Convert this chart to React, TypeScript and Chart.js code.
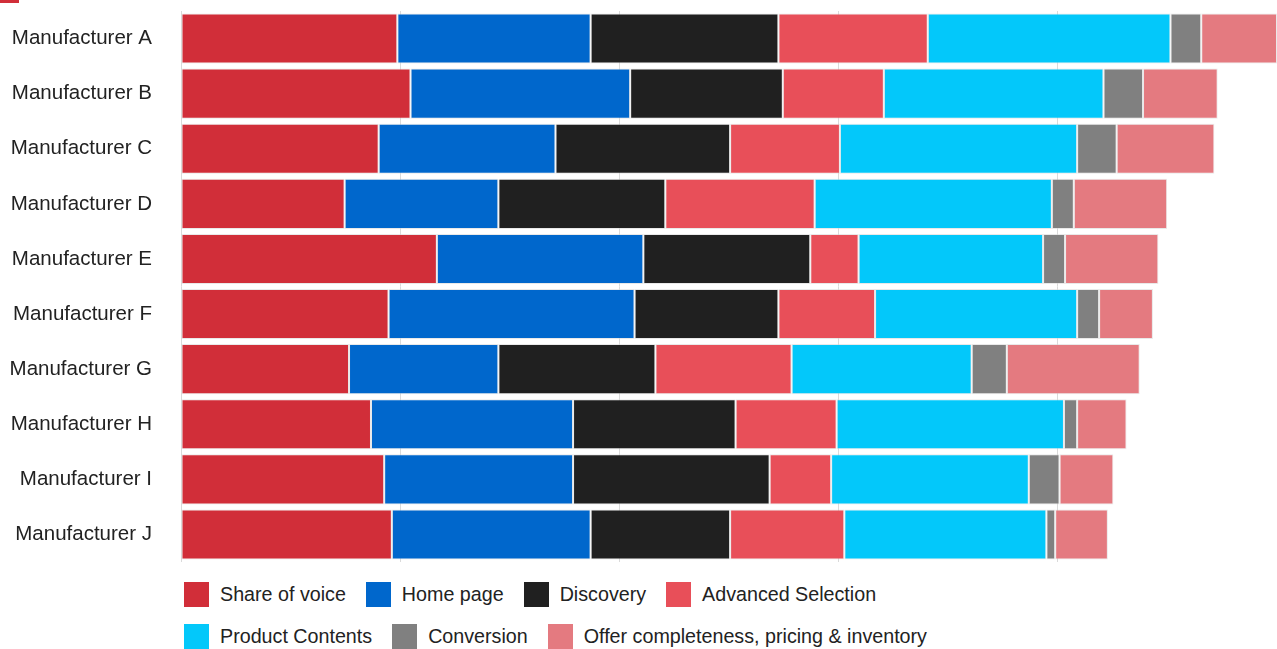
import { useEffect, useRef } from "react";
import { Chart, registerables } from "chart.js";

Chart.register(...registerables);

// Categories (one bar each)
const manufacturers = [
  "Manufacturer A",
  "Manufacturer B",
  "Manufacturer C",
  "Manufacturer D",
  "Manufacturer E",
  "Manufacturer F",
  "Manufacturer G",
  "Manufacturer H",
  "Manufacturer I",
  "Manufacturer J",
];

// Score components, stacked left to right
const shareOfVoice = [19.7, 20.9, 18.0, 14.9, 23.3, 18.9, 15.3, 17.3, 18.5, 19.2];
const homePage = [17.6, 20.0, 16.1, 14.0, 18.8, 22.4, 13.6, 18.4, 17.2, 18.1];
const discovery = [17.1, 13.9, 15.9, 15.2, 15.2, 13.1, 14.3, 14.8, 17.9, 12.7];
const advancedSelection = [13.6, 9.2, 10.0, 13.6, 4.4, 8.8, 12.4, 9.2, 5.6, 10.4];
const productContents = [22.1, 20.0, 21.6, 21.6, 16.8, 18.4, 16.4, 20.7, 18.0, 18.4];
const conversion = [2.8, 3.6, 3.6, 2.0, 2.0, 2.0, 3.2, 1.2, 2.8, 0.8];
const offerCompleteness = [6.9, 6.8, 8.9, 8.5, 8.5, 4.9, 12.1, 4.5, 4.9, 4.8];

const seriesLabels = [
  "Share of voice",
  "Home page",
  "Discovery",
  "Advanced Selection",
  "Product Contents",
  "Conversion",
  "Offer completeness, pricing & inventory",
];
const seriesValues = [
  shareOfVoice,
  homePage,
  discovery,
  advancedSelection,
  productContents,
  conversion,
  offerCompleteness,
];
const seriesColors = [
  "#D12E39",
  "#0067CC",
  "#202020",
  "#E84F59",
  "#03C8FA",
  "#808080",
  "#E47A80",
];

// Vertical grid every 20 points
const gridStep = 20;

const FONT = "'Liberation Sans', Arial, Helvetica, sans-serif";
const TEXT = "#222222";
const CANVAS_W = 1277;
const CANVAS_H = 562;

export default function App() {
  const canvasRef = useRef<HTMLCanvasElement | null>(null);

  useEffect(() => {
    document.body.style.margin = "0";
    const canvas = canvasRef.current;
    if (!canvas) return;

    const totals = manufacturers.map((_, i) =>
      seriesValues.reduce((s, arr) => s + arr[i], 0)
    );
    const xMax = Math.max(...totals);

    const chart = new Chart(canvas, {
      type: "bar",
      data: {
        labels: manufacturers,
        datasets: seriesLabels.map((label, k) => ({
          label,
          data: seriesValues[k],
          backgroundColor: seriesColors[k],
          borderColor: "rgba(215,215,215,0.55)",
          borderWidth: 1,
          borderSkipped: false,
          barPercentage: 1,
          categoryPercentage: 50 / 55,
        })),
      },
      options: {
        indexAxis: "y",
        animation: false,
        responsive: false,
        devicePixelRatio: 1,
        layout: { padding: { top: 11, right: 0, bottom: 0, left: 0 } },
        plugins: {
          legend: { display: false },
          tooltip: { enabled: true },
        },
        scales: {
          x: {
            stacked: true,
            min: 0,
            max: xMax,
            ticks: { display: false, stepSize: gridStep, includeBounds: false },
            grid: { color: "#DADADA", lineWidth: 1, drawTicks: false },
            border: { display: false },
          },
          y: {
            stacked: true,
            ticks: {
              color: TEXT,
              padding: 29,
              font: { family: FONT, size: 20.5 },
            },
            grid: { display: false, drawTicks: false },
            border: { display: false },
            afterFit: (scale: any) => {
              // fixed label column; the tick padding is horizontal only
              scale.width = 181;
              scale.paddingTop = 0;
              scale.paddingBottom = 0;
            },
          },
        },
      },
    });

    return () => chart.destroy();
  }, []);

  return (
    <div style={{ position: "relative", width: 1277, height: 649, fontFamily: FONT }}>
      <div
        style={{
          position: "absolute",
          left: 0,
          top: 0,
          width: 19,
          height: 3,
          background: seriesColors[0],
        }}
      />
      <canvas
        ref={canvasRef}
        width={CANVAS_W}
        height={CANVAS_H}
        style={{ position: "absolute", left: 0, top: 0, width: CANVAS_W, height: CANVAS_H }}
      />
      <div
        style={{
          position: "absolute",
          left: 184,
          top: 582,
          width: 770,
          display: "flex",
          flexWrap: "wrap",
          rowGap: 17,
        }}
      >
        {seriesLabels.map((label, k) => (
          <div
            key={label}
            style={{ display: "flex", alignItems: "center", height: 25, marginRight: 20 }}
          >
            <span
              style={{
                display: "inline-block",
                width: 25,
                height: 25,
                background: seriesColors[k],
                marginRight: 11,
              }}
            />
            <span style={{ fontSize: 19.7, color: TEXT, lineHeight: "25px", whiteSpace: "nowrap" }}>
              {label}
            </span>
          </div>
        ))}
      </div>
    </div>
  );
}
